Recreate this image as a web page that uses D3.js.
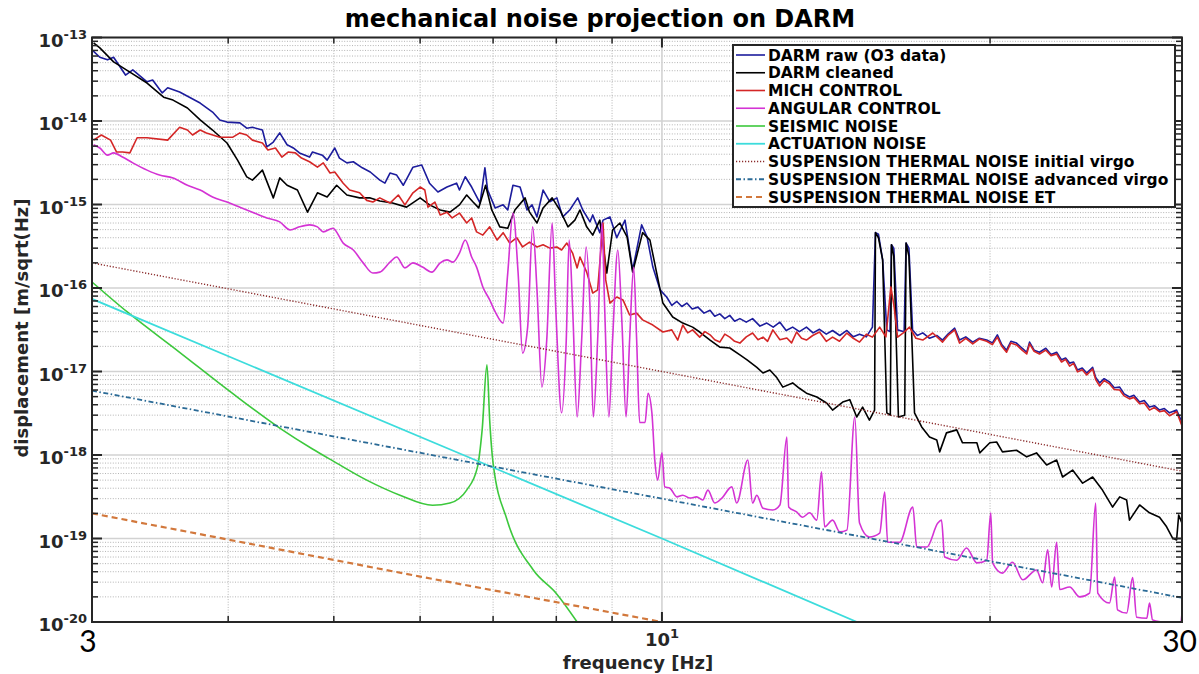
<!DOCTYPE html>
<html><head><meta charset="utf-8">
<script src="https://cdn.jsdelivr.net/npm/d3@7"></script>
<style>body{margin:0;background:#fff;}svg{display:block;}</style>
</head><body>
<svg id="chart" width="1199" height="674"></svg>
<script>
// ---------- data: [frequency Hz, displacement m/sqrt(Hz)] ----------
const darmRaw = [[3.00,7.1e-14],[3.05,5.8e-14],[3.10,5.4e-14],[3.14,5.8e-14],[3.22,3.55e-14],[3.27,4.1e-14],[3.37,2.95e-14],[3.41,3.1e-14],[3.48,2.17e-14],[3.52,2.5e-14],[3.61,2.22e-14],[3.77,1.64e-14],[3.87,1.28e-14],[3.93,1.03e-14],[3.99,9.7e-15],[4.10,9.5e-15],[4.16,8.2e-15],[4.21,8.4e-15],[4.30,7.8e-15],[4.34,4.9e-15],[4.40,5.6e-15],[4.46,7.2e-15],[4.53,5.2e-15],[4.59,4.75e-15],[4.65,4.15e-15],[4.75,3.7e-15],[4.78,4.25e-15],[4.88,3.9e-15],[4.93,3.4e-15],[5.01,4.75e-15],[5.06,3.6e-15],[5.14,3.15e-15],[5.21,3.25e-15],[5.31,2.75e-15],[5.40,2.45e-15],[5.51,1.96e-15],[5.57,1.8e-15],[5.63,2.38e-15],[5.71,2.25e-15],[5.79,1.7e-15],[5.91,2.8e-15],[6.02,2.97e-15],[6.12,1.8e-15],[6.23,1.41e-15],[6.35,1.62e-15],[6.48,1.8e-15],[6.52,1.49e-15],[6.60,2.15e-15],[6.69,1.62e-15],[6.81,1.04e-15],[6.88,2.75e-15],[6.92,1.49e-15],[7.03,9.1e-16],[7.15,9.9e-16],[7.22,8.6e-16],[7.30,1.7e-15],[7.41,1.62e-15],[7.52,8.6e-16],[7.60,9.9e-16],[7.68,7.1e-16],[7.78,1.49e-15],[7.89,1.08e-15],[8.01,1.2e-15],[8.11,7.1e-16],[8.23,8.6e-16],[8.37,1.2e-15],[8.46,8.6e-16],[8.59,6.2e-16],[8.64,7.5e-16],[8.77,4.6e-16],[8.83,6.5e-16],[8.96,7.1e-16],[9.09,4.0e-16],[9.25,6.5e-16],[9.40,1.64e-16],[9.58,5.7e-16],[9.69,4.1e-16],[9.81,1.78e-16],[9.96,9.5e-17],[10.10,7.8e-17],[10.21,6.2e-17],[10.32,6.9e-17],[10.43,6.0e-17],[10.54,6.6e-17],[10.66,5.6e-17],[10.79,5.9e-17],[10.93,5.0e-17],[11.07,5.4e-17],[11.18,4.6e-17],[11.30,4.9e-17],[11.42,4.3e-17],[11.54,4.7e-17],[11.66,4.0e-17],[11.79,4.3e-17],[11.95,3.9e-17],[12.11,4.3e-17],[12.30,3.5e-17],[12.48,3.8e-17],[12.65,3.4e-17],[12.83,3.9e-17],[13.00,3.1e-17],[13.18,3.4e-17],[13.37,3.0e-17],[13.57,3.4e-17],[13.76,2.9e-17],[13.95,3.2e-17],[14.15,2.8e-17],[14.34,3.1e-17],[14.56,2.7e-17],[14.78,3.1e-17],[14.98,2.6e-17],[15.18,2.8e-17],[15.40,2.6e-17],[15.60,3.4e-17],[15.70,4.6e-16],[15.80,4.4e-16],[15.94,2.17e-16],[16.08,3.15e-17],[16.19,3.0e-17],[16.24,3.3e-16],[16.32,3.0e-16],[16.45,3.15e-17],[16.68,3.0e-17],[16.75,3.45e-16],[16.85,3.0e-16],[16.98,3.15e-17],[17.15,2.7e-17],[17.35,2.9e-17],[17.60,2.5e-17],[17.87,2.7e-17],[18.09,2.38e-17],[18.30,2.8e-17],[18.56,3.3e-17],[18.75,2.38e-17],[19.00,2.6e-17],[19.28,2.25e-17],[19.55,2.5e-17],[19.86,2.38e-17],[20.10,2.2e-17],[20.31,2.75e-17],[20.50,2.1e-17],[20.71,1.8e-17],[20.90,2.3e-17],[21.15,2.19e-17],[21.40,1.9e-17],[21.61,1.7e-17],[21.74,2.25e-17],[21.95,1.8e-17],[22.20,1.7e-17],[22.50,1.9e-17],[22.75,1.6e-17],[23.02,1.7e-17],[23.26,1.38e-17],[23.46,1.45e-17],[23.66,1.26e-17],[23.86,1.3e-17],[24.06,1.04e-17],[24.30,1.1e-17],[24.53,9.6e-18],[24.84,1.12e-17],[25.00,8.5e-18],[25.21,7.3e-18],[25.45,8.2e-18],[25.74,7.5e-18],[26.00,6.4e-18],[26.30,6.5e-18],[26.55,5.4e-18],[26.85,4.95e-18],[27.10,5.2e-18],[27.43,4.3e-18],[27.70,4.5e-18],[28.01,3.75e-18],[28.30,3.9e-18],[28.61,3.45e-18],[28.90,3.6e-18],[29.22,3.2e-18],[29.66,3.45e-18],[30.0,2.45e-18]];

const darmCleaned = [[3.01,8.6e-14],[3.05,7.5e-14],[3.14,5.1e-14],[3.25,3.85e-14],[3.37,2.85e-14],[3.49,1.93e-14],[3.56,1.78e-14],[3.67,1.43e-14],[3.77,1.03e-14],[3.87,7.8e-15],[3.99,5.45e-15],[4.08,3.4e-15],[4.16,2.14e-15],[4.21,1.96e-15],[4.30,2.58e-15],[4.40,1.2e-15],[4.46,2.08e-15],[4.53,1.7e-15],[4.63,1.49e-15],[4.73,8.1e-16],[4.83,1.38e-15],[4.93,1.23e-15],[5.03,1.7e-15],[5.14,1.3e-15],[5.28,1.2e-15],[5.40,1.2e-15],[5.51,1.1e-15],[5.66,1.04e-15],[5.83,9.3e-16],[6.00,1.2e-15],[6.12,9.9e-16],[6.26,8.6e-16],[6.39,8.1e-16],[6.52,9.9e-16],[6.62,1.3e-15],[6.71,1.07e-15],[6.79,9.1e-16],[6.89,1.7e-15],[6.98,8.6e-16],[7.10,5.4e-16],[7.22,5.2e-16],[7.33,8.6e-16],[7.49,1.2e-15],[7.56,8.1e-16],[7.68,6.0e-16],[7.78,9.1e-16],[7.93,1.2e-15],[8.06,8.6e-16],[8.20,5.4e-16],[8.32,6.5e-16],[8.41,8.6e-16],[8.53,5.4e-16],[8.64,4.3e-16],[8.77,6.5e-16],[8.90,1.51e-16],[9.01,4.95e-16],[9.15,6.0e-16],[9.29,4.1e-16],[9.40,1.55e-16],[9.60,4.6e-16],[9.75,3.75e-16],[9.89,1.51e-16],[10.02,6.6e-17],[10.23,4.5e-17],[10.45,3.8e-17],[10.67,3.4e-17],[10.83,2.97e-17],[11.07,2.38e-17],[11.30,1.96e-17],[11.54,1.91e-17],[11.79,1.58e-17],[11.97,1.38e-17],[12.22,1.12e-17],[12.38,9.6e-18],[12.56,1.04e-17],[12.75,8.4e-18],[12.91,6.5e-18],[13.18,7.3e-18],[13.37,6.3e-18],[13.57,5.5e-18],[13.87,4.95e-18],[14.16,4.2e-18],[14.34,3.45e-18],[14.65,4.3e-18],[14.87,4.6e-18],[15.09,2.85e-18],[15.28,3.75e-18],[15.50,2.62e-18],[15.67,3.45e-18],[15.70,4.6e-16],[15.80,4.0e-16],[15.94,2.17e-16],[16.08,3.2e-18],[16.20,3.0e-18],[16.24,3.3e-16],[16.32,2.4e-16],[16.48,2.85e-18],[16.70,3.0e-18],[16.75,3.45e-16],[16.85,2.4e-16],[17.05,3.2e-18],[17.31,2.17e-18],[17.60,1.64e-18],[17.87,1.51e-18],[17.98,1.09e-18],[18.24,1.84e-18],[18.64,2.0e-18],[18.87,1.4e-18],[19.45,1.4e-18],[19.57,1.06e-18],[19.99,1.4e-18],[20.28,1.43e-18],[20.53,1.09e-18],[21.15,1.14e-18],[21.61,9.5e-19],[22.06,1.06e-18],[22.54,7.6e-19],[23.02,8.7e-19],[23.31,5.45e-19],[23.81,6.6e-19],[24.32,4.6e-19],[24.84,5.45e-19],[25.36,3.8e-19],[25.91,2.38e-19],[26.30,3.15e-19],[26.69,2.89e-19],[26.85,1.66e-19],[27.43,2.52e-19],[28.01,2.03e-19],[28.61,1.8e-19],[29.04,1.38e-19],[29.41,1.01e-19],[29.66,9.6e-20],[29.79,1.91e-19],[30.0,1.53e-19]];

const michControl = [[3.01,5.9e-15],[3.06,6.8e-15],[3.12,5.9e-15],[3.16,4.25e-15],[3.20,4.25e-15],[3.25,4.15e-15],[3.30,6.3e-15],[3.37,6.3e-15],[3.52,5.9e-15],[3.61,8.4e-15],[3.67,7.8e-15],[3.71,6.8e-15],[3.77,7.8e-15],[3.82,7.2e-15],[3.93,6.4e-15],[4.04,6.4e-15],[4.10,7.2e-15],[4.16,6.8e-15],[4.21,5.9e-15],[4.30,5.45e-15],[4.35,4.5e-15],[4.42,4.75e-15],[4.48,3.7e-15],[4.54,4.25e-15],[4.61,4.15e-15],[4.67,3.6e-15],[4.75,3.25e-15],[4.83,2.8e-15],[4.89,3.15e-15],[4.96,2.38e-15],[5.01,2.45e-15],[5.10,1.8e-15],[5.17,1.49e-15],[5.28,1.38e-15],[5.36,1.12e-15],[5.43,1.07e-15],[5.51,1.2e-15],[5.63,1.04e-15],[5.73,1.3e-15],[5.81,9.9e-16],[5.91,1.38e-15],[6.00,1.62e-15],[6.06,1.49e-15],[6.10,9.3e-16],[6.19,1.07e-15],[6.26,7.5e-16],[6.35,8.1e-16],[6.42,6.9e-16],[6.52,7.9e-16],[6.62,6.0e-16],[6.69,6.9e-16],[6.76,4.7e-16],[6.85,4.3e-16],[6.95,5.4e-16],[7.06,3.75e-16],[7.15,4.6e-16],[7.25,3.45e-16],[7.36,4.0e-16],[7.45,3.1e-16],[7.56,3.55e-16],[7.68,3.1e-16],[7.78,3.3e-16],[7.89,3.0e-16],[8.01,3.1e-16],[8.09,2.85e-16],[8.18,3.45e-16],[8.28,2.62e-16],[8.36,1.74e-16],[8.41,2.35e-16],[8.53,1.55e-16],[8.64,8.7e-17],[8.73,9.5e-17],[8.83,6.0e-16],[8.88,1.25e-16],[8.96,6.6e-17],[9.09,7.8e-17],[9.21,7.2e-17],[9.34,4.75e-17],[9.48,5.0e-17],[9.60,4.15e-17],[9.81,3.6e-17],[10.02,2.97e-17],[10.21,3.15e-17],[10.34,2.38e-17],[10.45,3.6e-17],[10.56,2.9e-17],[10.67,3.15e-17],[10.83,2.58e-17],[10.95,3.0e-17],[11.07,2.75e-17],[11.18,2.4e-17],[11.30,2.25e-17],[11.42,2.8e-17],[11.54,2.58e-17],[11.66,2.3e-17],[11.79,2.19e-17],[11.95,2.6e-17],[12.11,2.89e-17],[12.25,2.4e-17],[12.38,2.58e-17],[12.50,2.3e-17],[12.64,3.15e-17],[12.83,2.4e-17],[13.02,2.52e-17],[13.15,2.2e-17],[13.29,2.97e-17],[13.43,2.5e-17],[13.57,2.38e-17],[13.75,2.7e-17],[13.95,2.97e-17],[14.15,2.3e-17],[14.34,2.58e-17],[14.55,2.3e-17],[14.78,2.89e-17],[14.98,2.5e-17],[15.18,2.25e-17],[15.40,2.8e-17],[15.60,2.58e-17],[15.84,3.4e-17],[16.05,2.6e-17],[16.22,1.03e-16],[16.33,6.0e-17],[16.45,2.58e-17],[16.65,2.9e-17],[16.87,3.4e-17],[17.10,2.5e-17],[17.35,2.38e-17],[17.72,2.89e-17],[18.09,2.25e-17],[18.30,2.7e-17],[18.56,3.15e-17],[18.75,2.19e-17],[19.00,2.5e-17],[19.28,2.14e-17],[19.55,2.45e-17],[19.86,2.3e-17],[20.10,2.1e-17],[20.31,2.58e-17],[20.50,2.0e-17],[20.71,1.7e-17],[20.90,2.2e-17],[21.15,2.08e-17],[21.40,1.8e-17],[21.61,1.62e-17],[21.74,2.14e-17],[21.95,1.75e-17],[22.20,1.62e-17],[22.50,1.8e-17],[22.75,1.55e-17],[23.02,1.62e-17],[23.26,1.3e-17],[23.46,1.4e-17],[23.66,1.16e-17],[23.86,1.25e-17],[24.06,9.9e-18],[24.30,1.05e-17],[24.53,9.1e-18],[24.84,1.07e-17],[25.00,8.0e-18],[25.21,6.7e-18],[25.45,7.8e-18],[25.74,7.1e-18],[26.00,6.1e-18],[26.30,6.0e-18],[26.55,5.1e-18],[26.85,4.7e-18],[27.10,4.9e-18],[27.43,4.1e-18],[27.70,4.2e-18],[28.01,3.45e-18],[28.30,3.7e-18],[28.61,3.3e-18],[28.90,3.4e-18],[29.22,2.95e-18],[29.66,3.3e-18],[30.0,2.22e-18]];

const angularControl = [[3.01,5.2e-15],[3.05,4.75e-15],[3.10,3.9e-15],[3.14,4.15e-15],[3.20,3.7e-15],[3.27,3.15e-15],[3.37,2.58e-15],[3.46,2.25e-15],[3.56,2.08e-15],[3.67,1.7e-15],[3.77,1.49e-15],[3.87,1.23e-15],[3.99,1.07e-15],[4.10,9.3e-16],[4.21,8.1e-16],[4.34,6.9e-16],[4.46,6.2e-16],[4.56,4.95e-16],[4.65,5.4e-16],[4.75,5.7e-16],[4.83,5.4e-16],[4.89,4.7e-16],[4.99,5.2e-16],[5.10,3.45e-16],[5.21,2.85e-16],[5.32,2.0e-16],[5.43,1.51e-16],[5.51,1.55e-16],[5.63,2.04e-16],[5.71,2.35e-16],[5.81,1.74e-16],[5.91,2.0e-16],[6.03,1.78e-16],[6.15,1.55e-16],[6.26,2.0e-16],[6.35,2.17e-16],[6.43,2.04e-16],[6.52,2.62e-16],[6.60,3.75e-16],[6.69,2.35e-16],[6.76,1.78e-16],[6.85,1.03e-16],[6.95,7.2e-17],[7.03,5.2e-17],[7.15,3.8e-17],[7.22,1.51e-16],[7.30,7.9e-16],[7.38,1.51e-16],[7.45,1.66e-17],[7.53,3.4e-17],[7.61,5.4e-16],[7.68,9.5e-17],[7.76,6.5e-18],[7.84,2.38e-17],[7.93,6.0e-16],[7.99,5.9e-17],[8.09,3.2e-18],[8.17,2.38e-17],[8.22,3.75e-16],[8.28,5.9e-17],[8.36,2.85e-18],[8.44,2.38e-17],[8.52,3.1e-16],[8.59,5.9e-17],[8.65,2.85e-18],[8.73,2.38e-17],[8.81,6.0e-16],[8.86,5.9e-17],[8.94,2.85e-18],[9.01,2.38e-17],[9.11,2.85e-16],[9.19,3.8e-17],[9.27,2.85e-18],[9.34,2.38e-17],[9.42,1.78e-16],[9.48,2.38e-17],[9.54,2.45e-18],[9.65,2.45e-18],[9.71,5.5e-18],[9.79,3.2e-18],[9.85,8.7e-19],[9.91,5.0e-19],[10.0,1.06e-18],[10.06,4.15e-19],[10.17,4.0e-19],[10.32,3.15e-19],[10.45,3.3e-19],[10.61,3.05e-19],[10.76,3.15e-19],[10.90,2.89e-19],[11.02,3.8e-19],[11.18,2.66e-19],[11.35,3.05e-19],[11.59,4.15e-19],[11.71,2.66e-19],[11.99,8.7e-19],[12.11,2.66e-19],[12.22,3.3e-19],[12.38,2.3e-19],[12.64,2.19e-19],[12.83,2.52e-19],[13.02,1.64e-18],[13.07,2.38e-19],[13.29,2.08e-19],[13.46,1.8e-19],[13.66,2.03e-19],[13.87,1.66e-19],[14.01,6.3e-19],[14.10,1.38e-19],[14.34,1.66e-19],[14.56,1.2e-19],[14.78,1.26e-19],[15.03,2.85e-18],[15.18,1.53e-19],[15.50,1.04e-19],[15.84,1.16e-19],[16.01,3.6e-19],[16.11,9.0e-20],[16.52,9.0e-20],[16.99,2.38e-19],[17.13,7.9e-20],[17.50,7.9e-20],[17.91,1.53e-19],[18.05,1.66e-19],[18.17,6.0e-20],[18.64,5.5e-20],[19.03,7.7e-20],[19.45,5.1e-20],[19.86,5.5e-20],[20.03,2.03e-19],[20.11,5.1e-20],[20.53,3.85e-20],[20.97,5.2e-20],[21.43,3.2e-20],[22.06,4.2e-20],[22.35,2.95e-20],[22.59,7.3e-20],[22.78,2.62e-20],[23.02,9.0e-20],[23.17,2.45e-20],[23.66,2.62e-20],[24.17,2.0e-20],[24.68,2.22e-20],[25.00,2.66e-19],[25.11,2.22e-20],[25.74,1.69e-20],[26.02,3.45e-20],[26.18,1.4e-20],[26.69,1.28e-20],[27.03,3.4e-20],[27.26,1.14e-20],[27.85,1.11e-20],[28.01,1.69e-20],[28.19,1.06e-20],[28.79,1.0e-20],[29.41,9.7e-21],[29.90,9.0e-21],[30.0,1.3e-20]];

const seismicNoise = [[3.00,1.18e-16],[3.23,5.2e-17],[3.61,1.7e-17],[4.02,5.7e-18],[4.46,2.1e-18],[4.78,1.18e-18],[4.99,8.5e-19],[5.36,5.0e-19],[5.75,3.3e-19],[6.16,2.5e-19],[6.39,2.66e-19],[6.62,3.8e-19],[6.77,7.0e-19],[6.84,2.0e-18],[6.91,1.2e-17],[6.95,2.6e-18],[7.00,8.0e-19],[7.21,1.67e-19],[7.62,4.2e-20],[8.00,2.2e-20],[8.36,1.0e-20]];

const actuationNoise = [[3.0,7.4e-17],[10.0,1.0e-19],[15.1,1.0e-20]];
const thermalInitialVirgo = [[3.0,2.0e-16],[10.0,1.0e-17],[30.0,6.4e-19]];
const thermalAdvancedVirgo = [[3.0,5.9e-18],[10.0,3.0e-19],[30.0,1.95e-20]];
const thermalET = [[3.0,2.0e-19],[6.0,3.5e-20],[10.0,1.0e-20]];

const seriesNames = ["DARM raw (O3 data)","DARM cleaned","MICH CONTROL","ANGULAR CONTROL","SEISMIC NOISE","ACTUATION NOISE","SUSPENSION THERMAL NOISE initial virgo","SUSPENSION THERMAL NOISE advanced virgo","SUSPENSION THERMAL NOISE ET"];
const seriesData = [darmRaw,darmCleaned,michControl,angularControl,seismicNoise,actuationNoise,thermalInitialVirgo,thermalAdvancedVirgo,thermalET];
const seriesColors = ["#1c1c9c","#000000","#d42626","#d433d4","#3cc83c","#3cdcdc","#8a2a2a","#2a6a96","#d2783c"];
const seriesDash = [null,null,null,null,null,null,"1.2,1.8","5,2.5,1.5,2.5","6,4"];
const seriesWidth = [1.6,1.6,1.6,1.6,1.6,1.8,1.4,1.8,2.2];

const yTickValues = [1e-20,1e-19,1e-18,1e-17,1e-16,1e-15,1e-14,1e-13];
const yTickExponents = ["-20","-19","-18","-17","-16","-15","-14","-13"];
const xMinorValues = [4,5,6,7,8,9,20];
const xMajorValues = [10];
const xMajorExponents = ["1"];
const cornerLabels = ["3","30"];

// ---------- layout ----------
const svg = d3.select("#chart");
const L = 92, R = 1182, T = 37.5, B = 622;
const x = d3.scaleLog().domain([3,30]).range([L,R]);
const y = d3.scaleLog().domain([1e-20,1e-13]).range([B,T]);
const font = "'DejaVu Sans', Verdana, sans-serif";

// grid
const grid = svg.append("g");
const minorY = [];
yTickValues.slice(0,-1).forEach(d => { for (let m=2;m<=9;m++) minorY.push(d*m); });
grid.selectAll(".hmin").data(minorY).join("line")
  .attr("x1",L).attr("x2",R).attr("y1",d=>y(d)).attr("y2",d=>y(d))
  .attr("stroke","#b4b4b4").attr("stroke-width",1).attr("stroke-dasharray","1,1.6");
grid.selectAll(".vmin").data(xMinorValues).join("line")
  .attr("y1",T).attr("y2",B).attr("x1",d=>x(d)).attr("x2",d=>x(d))
  .attr("stroke","#b4b4b4").attr("stroke-width",1).attr("stroke-dasharray","1,1.6");
grid.selectAll(".hmaj").data(yTickValues).join("line")
  .attr("x1",L).attr("x2",R).attr("y1",d=>y(d)).attr("y2",d=>y(d))
  .attr("stroke","#d2d2d2").attr("stroke-width",1.6);
grid.selectAll(".vmaj").data(xMajorValues).join("line")
  .attr("y1",T).attr("y2",B).attr("x1",d=>x(d)).attr("x2",d=>x(d))
  .attr("stroke","#d2d2d2").attr("stroke-width",1.6);

// data lines
svg.append("clipPath").attr("id","clip").append("rect")
  .attr("x",L).attr("y",T).attr("width",R-L).attr("height",B-T);
const plot = svg.append("g").attr("clip-path","url(#clip)");
const lineLin = d3.line().x(d=>x(d[0])).y(d=>y(d[1]));
const lineSmooth = d3.line().x(d=>x(d[0])).y(d=>y(d[1])).curve(d3.curveMonotoneX);
seriesData.forEach((data,i) => {
  const gen = (i===3 || i===4) ? lineSmooth : lineLin;
  plot.append("path").datum(data).attr("d",gen)
    .attr("fill","none").attr("stroke",seriesColors[i])
    .attr("stroke-width",seriesWidth[i]).attr("stroke-linejoin","round")
    .attr("stroke-dasharray",seriesDash[i]);
});

// axes frame and ticks
const ax = svg.append("g").attr("stroke","#262626");
ax.append("rect").attr("x",L).attr("y",T).attr("width",R-L).attr("height",B-T)
  .attr("fill","none").attr("stroke-width",2);
yTickValues.forEach(v => {
  ax.append("line").attr("x1",L).attr("x2",L+10).attr("y1",y(v)).attr("y2",y(v)).attr("stroke-width",2);
  ax.append("line").attr("x1",R).attr("x2",R-10).attr("y1",y(v)).attr("y2",y(v)).attr("stroke-width",2);
});
minorY.forEach(v => {
  ax.append("line").attr("x1",L).attr("x2",L+6).attr("y1",y(v)).attr("y2",y(v)).attr("stroke-width",1.5);
  ax.append("line").attr("x1",R).attr("x2",R-6).attr("y1",y(v)).attr("y2",y(v)).attr("stroke-width",1.5);
});
xMinorValues.forEach(v => {
  ax.append("line").attr("y1",B).attr("y2",B-6).attr("x1",x(v)).attr("x2",x(v)).attr("stroke-width",1.5);
  ax.append("line").attr("y1",T).attr("y2",T+6).attr("x1",x(v)).attr("x2",x(v)).attr("stroke-width",1.5);
});
xMajorValues.forEach(v => {
  ax.append("line").attr("y1",B).attr("y2",B-10).attr("x1",x(v)).attr("x2",x(v)).attr("stroke-width",2);
  ax.append("line").attr("y1",T).attr("y2",T+10).attr("x1",x(v)).attr("x2",x(v)).attr("stroke-width",2);
});

// y tick labels
yTickValues.forEach((v,i) => {
  const t = svg.append("text").attr("x",87).attr("y",y(v)+9)
    .attr("text-anchor","end").attr("font-family",font).attr("font-weight","bold")
    .attr("font-size",18).attr("fill","#262626");
  t.append("tspan").text("10");
  t.append("tspan").attr("dy",-8).attr("font-size",13).text(yTickExponents[i]);
});
// x tick labels
xMajorValues.forEach((v,i) => {
  const t = svg.append("text").attr("x",x(v)).attr("y",646)
    .attr("text-anchor","middle").attr("font-family",font).attr("font-weight","bold")
    .attr("font-size",18).attr("fill","#262626");
  t.append("tspan").text("10");
  t.append("tspan").attr("dy",-8).attr("font-size",13).text(xMajorExponents[i]);
});
// corner labels
svg.append("text").attr("x",88).attr("y",652).attr("text-anchor","middle")
  .attr("font-family","Lato, 'Open Sans', sans-serif").attr("font-size",30).attr("fill","#000").text(cornerLabels[0]);
svg.append("text").attr("x",1197).attr("y",652).attr("text-anchor","end")
  .attr("font-family","Lato, 'Open Sans', sans-serif").attr("font-size",30).attr("fill","#000").text(cornerLabels[1]);

// axis titles
svg.append("text").attr("x",638).attr("y",669).attr("text-anchor","middle")
  .attr("font-family",font).attr("font-weight","bold").attr("font-size",18).attr("fill","#262626")
  .text("frequency [Hz]");
svg.append("text").attr("transform","translate(28,328) rotate(-90)").attr("text-anchor","middle")
  .attr("font-family",font).attr("font-weight","bold").attr("font-size",18).attr("fill","#262626")
  .text("displacement [m/sqrt(Hz]");
svg.append("text").attr("x",600).attr("y",27).attr("text-anchor","middle")
  .attr("font-family",font).attr("font-weight","bold").attr("font-size",24).attr("fill","#000")
  .text("mechanical noise projection on DARM");

// legend
const lg = svg.append("g");
lg.append("rect").attr("x",733).attr("y",45).attr("width",442).attr("height",162)
  .attr("fill","#fff").attr("stroke","#262626").attr("stroke-width",2);
seriesNames.forEach((name,i) => {
  const cy = 55 + i*17.75;
  lg.append("line").attr("x1",736).attr("x2",765).attr("y1",cy).attr("y2",cy)
    .attr("stroke",seriesColors[i]).attr("stroke-width",Math.min(seriesWidth[i],2))
    .attr("stroke-dasharray",seriesDash[i]);
  lg.append("text").attr("x",768).attr("y",cy+5.5).attr("font-family",font)
    .attr("font-weight","bold").attr("font-size",15.5).attr("fill","#000").text(name);
});
</script>
</body></html>
